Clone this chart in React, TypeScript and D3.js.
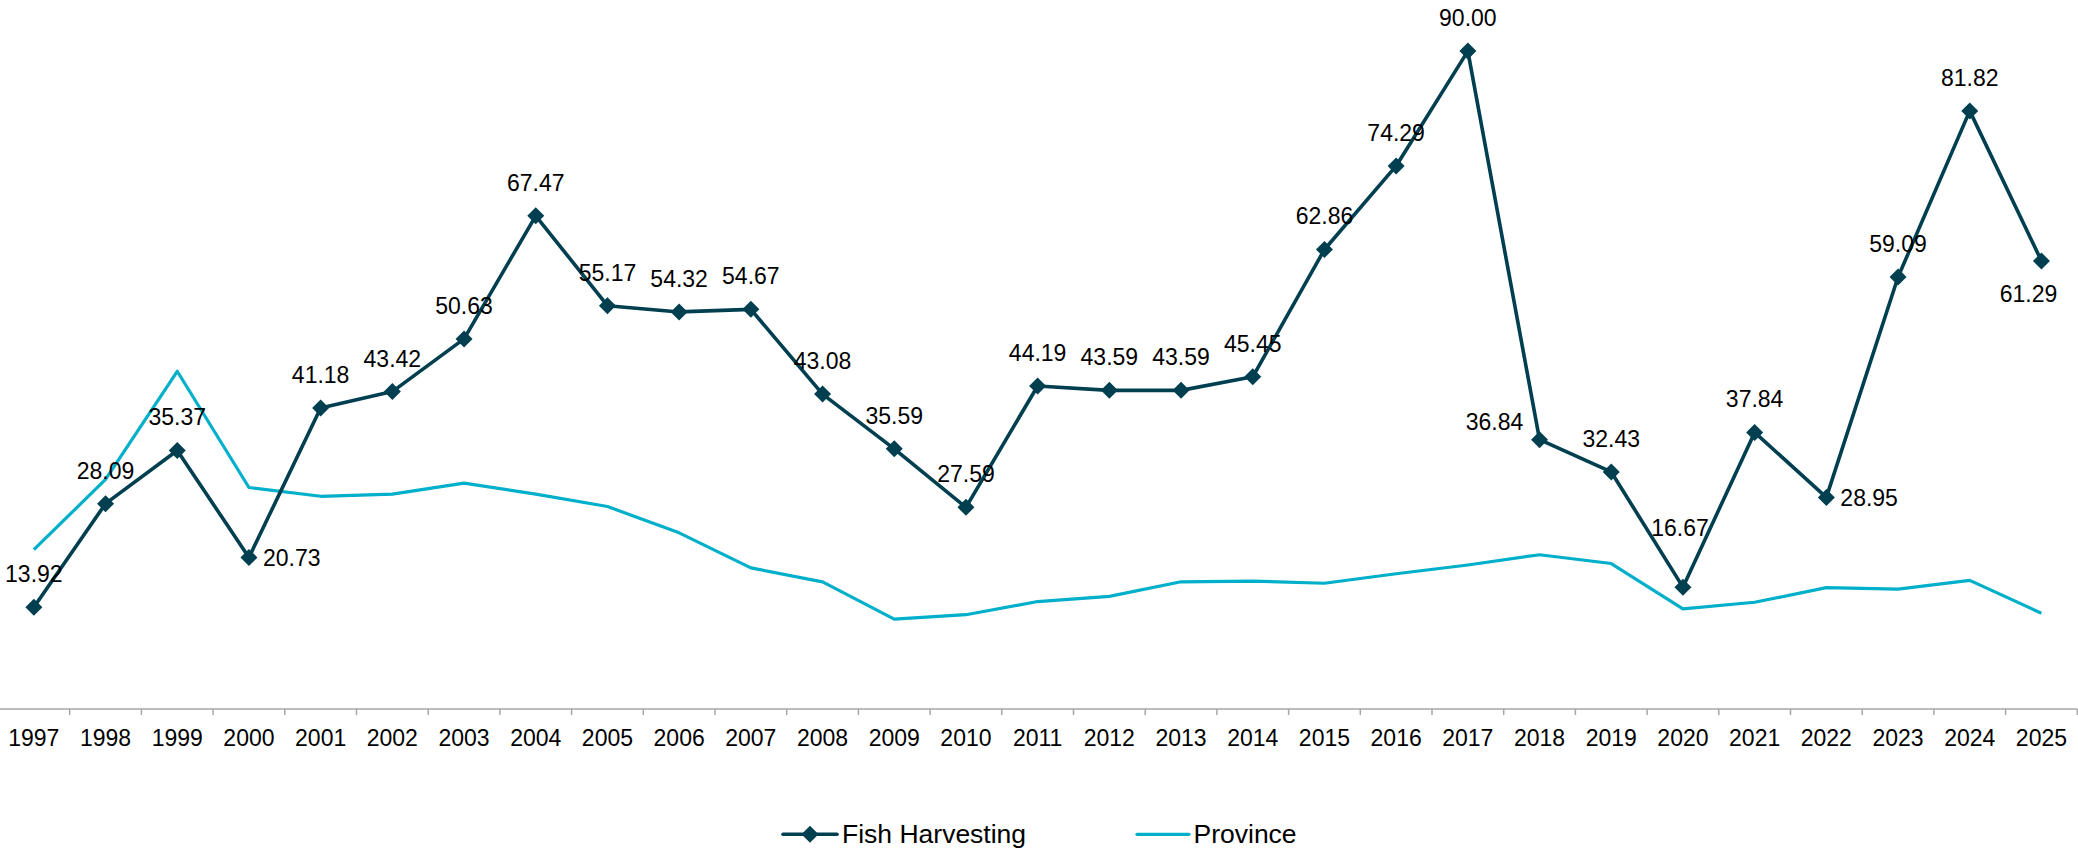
import React from 'react';
import * as d3 from 'd3';

const years = ['1997','1998','1999','2000','2001','2002','2003','2004','2005','2006','2007','2008','2009','2010','2011','2012','2013','2014','2015','2016','2017','2018','2019','2020','2021','2022','2023','2024','2025'];
const fishHarvesting = [13.92,28.09,35.37,20.73,41.18,43.42,50.63,67.47,55.17,54.32,54.67,43.08,35.59,27.59,44.19,43.59,43.59,45.45,62.86,74.29,90.0,36.84,32.43,16.67,37.84,28.95,59.09,81.82,61.29];
const province = [21.8,31.4,46.2,30.3,29.1,29.4,30.9,29.4,27.7,24.1,19.3,17.4,12.3,12.9,14.7,15.4,17.4,17.5,17.2,18.5,19.7,21.1,19.9,13.7,14.6,16.6,16.4,17.6,13.1];
const seriesNames = ['Fish Harvesting', 'Province'];
// label placement per year (default 'above')
const labelPlacement: Record<string, string> = {
  '2000': 'right',
  '2018': 'leftAbove',
  '2020': 'high',
  '2022': 'right',
  '2025': 'below',
};

const W = 2078;
const H = 851;
const FISH = '#003f50';
const PROV = '#00afca';
const FONT = '"Liberation Sans", Arial, Helvetica, sans-serif';

export default function App() {
  const x = d3.scaleBand<string>().domain(years).range([-2, 2077.3]).paddingInner(0).paddingOuter(0);
  const y = d3.scaleLinear().domain([0, 100]).range([709, -22]);
  const cx = (yr: string) => (x(yr) as number) + x.bandwidth() / 2;
  const axisY = y(0);

  const lineGen = d3.line<number>().x((_, i) => cx(years[i])).y((v) => y(v));
  const fishPath = lineGen(fishHarvesting) || '';
  const provPath = lineGen(province) || '';

  const diamond = (px: number, py: number, r: number) =>
    `M${px},${py - r}L${px + r},${py}L${px},${py + r}L${px - r},${py}Z`;

  const label = (i: number) => {
    const yr = years[i];
    const px = cx(yr);
    const py = y(fishHarvesting[i]);
    const p = labelPlacement[yr] || 'above';
    let tx = px, ty = py - 25, anchor: 'middle' | 'start' | 'end' = 'middle';
    if (p === 'right') { tx = px + 14; ty = py + 8.5; anchor = 'start'; }
    else if (p === 'below') { tx = px - 13; ty = py + 41; }
    else if (p === 'leftAbove') { tx = px - 45; ty = py - 9.5; }
    else if (p === 'high') { tx = px - 3; ty = py - 51.5; }
    return (
      <text key={'l' + yr} x={tx} y={ty} textAnchor={anchor} fontSize={23} fill="#000">
        {fishHarvesting[i].toFixed(2)}
      </text>
    );
  };

  const boundaries = years.map((yr) => x(yr) as number).concat([x.range()[1]]);

  return (
    <svg width={W} height={H} style={{ position: 'absolute', left: 0, top: 0, display: 'block', background: '#fff' }} fontFamily={FONT}>
      <rect x={0} y={0} width={W} height={H} fill="#fff" />
      {/* axis */}
      <line x1={x.range()[0]} x2={x.range()[1]} y1={axisY} y2={axisY} stroke="#a6a6a6" strokeWidth={1.5} />
      {boundaries.map((bx, i) => (
        <line key={'t' + i} x1={bx} x2={bx} y1={axisY} y2={axisY + 6} stroke="#a6a6a6" strokeWidth={1.5} />
      ))}
      {years.map((yr) => (
        <text key={'x' + yr} x={cx(yr)} y={745.7} textAnchor="middle" fontSize={23} fill="#000">{yr}</text>
      ))}
      {/* series */}
      <path d={provPath} fill="none" stroke={PROV} strokeWidth={3.2} strokeLinejoin="round" />
      <path d={fishPath} fill="none" stroke={FISH} strokeWidth={3.6} strokeLinejoin="round" />
      {fishHarvesting.map((v, i) => (
        <path key={'m' + i} d={diamond(cx(years[i]), y(v), 8.5)} fill={FISH} />
      ))}
      {fishHarvesting.map((_, i) => label(i))}
      {/* legend */}
      <line x1={783} x2={837} y1={834.3} y2={834.3} stroke={FISH} strokeWidth={3.6} strokeLinecap="round" />
      <path d={diamond(810, 834.3, 8.5)} fill={FISH} />
      <text x={842} y={843.3} fontSize={26.5} fill="#000">{seriesNames[0]}</text>
      <line x1={1137} x2={1189} y1={834.3} y2={834.3} stroke={PROV} strokeWidth={3.2} strokeLinecap="round" />
      <text x={1193.5} y={843.3} fontSize={26.5} fill="#000">{seriesNames[1]}</text>
    </svg>
  );
}
